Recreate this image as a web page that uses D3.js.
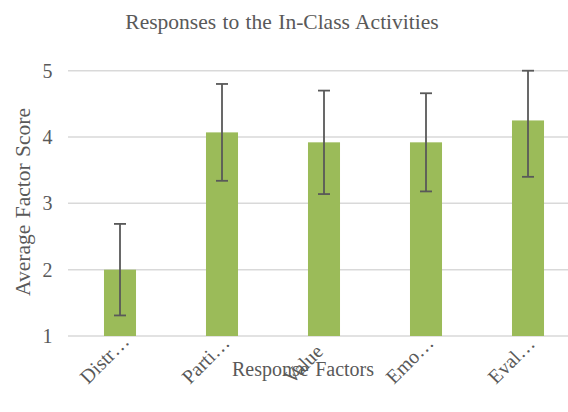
<!DOCTYPE html>
<html>
<head>
<meta charset="utf-8">
<script src="https://cdn.jsdelivr.net/npm/d3@7"></script>
<style>
  body { margin: 0; background: #fff; }
  text { font-family: "Liberation Serif", "Times New Roman", serif; fill: #595959; }
</style>
</head>
<body>
<svg width="568" height="412"></svg>
<script>
const categories = ["Distr…", "Parti…", "Value", "Emo…", "Eval…"];
const means = [2.0, 4.07, 3.92, 3.92, 4.25];
const errors = [0.69, 0.73, 0.78, 0.74, 0.85];
const yTicks = [1, 2, 3, 4, 5];

var svg = d3.select("svg");

// scales
var x = d3.scaleBand()
    .domain(categories)
    .range([69, 579])
    .paddingInner(0.686)
    .paddingOuter(0.343);

var y = d3.scaleLinear()
    .domain([1, 5])
    .range([336, 70.7]);

// gridlines
svg.selectAll("line.grid")
    .data(yTicks)
    .enter()
    .append("line")
    .attr("class", "grid")
    .attr("x1", 68)
    .attr("x2", 568)
    .attr("y1", d => y(d))
    .attr("y2", d => y(d))
    .attr("stroke", "#d9d9d9")
    .attr("stroke-width", 1.5);

// y tick labels
svg.selectAll("text.ytick")
    .data(yTicks)
    .enter()
    .append("text")
    .attr("class", "ytick")
    .attr("x", 52.5)
    .attr("y", d => y(d))
    .attr("dy", "0.35em")
    .attr("text-anchor", "end")
    .style("font-size", "20px")
    .text(d => d);

// bars
svg.selectAll("rect.bar")
    .data(means)
    .enter()
    .append("rect")
    .attr("class", "bar")
    .attr("x", (d, i) => x(categories[i]))
    .attr("width", x.bandwidth())
    .attr("y", d => y(d))
    .attr("height", d => y(1) - y(d))
    .attr("fill", "#9bbb59");

// error bars
var err = svg.selectAll("g.err")
    .data(means)
    .enter()
    .append("g")
    .attr("class", "err")
    .attr("transform", (d, i) => "translate(" + (x(categories[i]) + x.bandwidth() / 2) + ",0)");

var lo = (d, i) => y(Math.max(1, d - errors[i]));
var hi = (d, i) => y(Math.min(5, d + errors[i]));

err.append("line")
    .attr("y1", lo).attr("y2", hi)
    .attr("stroke", "#595959").attr("stroke-width", 1.8);
err.append("line")
    .attr("x1", -6).attr("x2", 6)
    .attr("y1", lo).attr("y2", lo)
    .attr("stroke", "#595959").attr("stroke-width", 1.8);
err.append("line")
    .attr("x1", -6).attr("x2", 6)
    .attr("y1", hi).attr("y2", hi)
    .attr("stroke", "#595959").attr("stroke-width", 1.8);

// x labels, rotated, starting below-left of the bar
svg.selectAll("text.xtick")
    .data(categories)
    .enter()
    .append("text")
    .attr("class", "xtick")
    .attr("text-anchor", "start")
    .attr("transform", d => "translate(" + (x(d) + x.bandwidth() / 2 - 32) + ",385) rotate(-45)")
    .style("font-size", "20px")
    .text(d => d);

// title
svg.append("text")
    .attr("x", 282)
    .attr("y", 29)
    .attr("text-anchor", "middle")
    .style("font-size", "21.5px")
    .style("word-spacing", "1px")
    .text("Responses to the In-Class Activities");

// axis titles
svg.append("text")
    .attr("x", 303)
    .attr("y", 376)
    .attr("text-anchor", "middle")
    .style("font-size", "20px")
    .style("word-spacing", "1.5px")
    .text("Response Factors");

svg.append("text")
    .attr("transform", "translate(30,202) rotate(-90)")
    .attr("text-anchor", "middle")
    .style("font-size", "21.5px")
    .style("word-spacing", "1px")
    .text("Average Factor Score");
</script>
</body>
</html>
